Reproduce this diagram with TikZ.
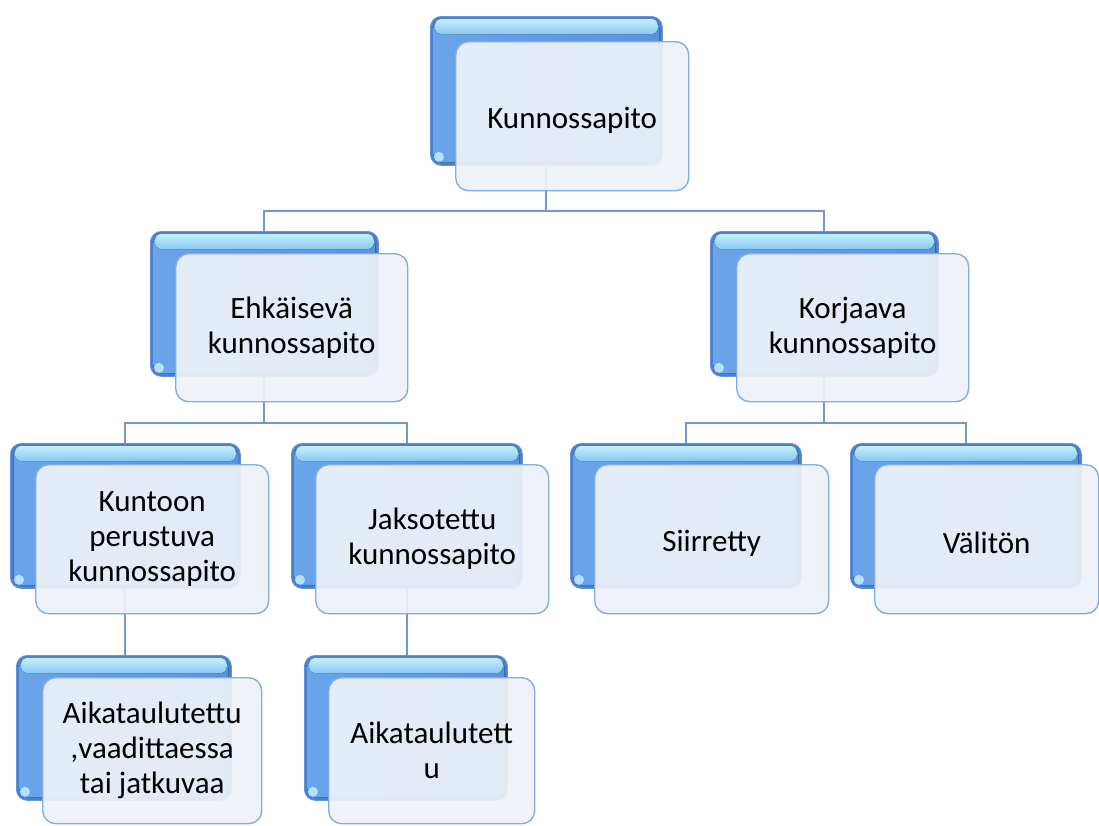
\documentclass[tikz,border=0pt]{standalone}
\usepackage{fontspec}
\setmainfont{Carlito}
\usetikzlibrary{calc}

\definecolor{bdark}{HTML}{4A80CE}
\definecolor{bmidL}{HTML}{6CA4EA}
\definecolor{bmidR}{HTML}{5A92DC}
\definecolor{bbandT}{HTML}{C6EFFD}
\definecolor{bbandB}{HTML}{86C8F2}
\definecolor{fborder}{HTML}{80AEE2}
\definecolor{ffill}{HTML}{EEF2F9}
\definecolor{linkc}{HTML}{6F9AD0}

\tikzset{
  backbox/.style={anchor=north west, rounded corners=11pt, fill=bdark,
    draw=bdark!85!white, line width=0.8pt, inner sep=0pt},
  frontbox/.style={anchor=north west, rounded corners=13pt, fill=ffill,
    fill opacity=0.93, text opacity=1, draw=fborder, line width=1.4pt,
    align=center, inner sep=2pt, text=black,
    font=\fontsize{31}{35}\selectfont,
    execute at begin node={\rule{0pt}{29pt}}},
  conn/.style={draw=linkc, line width=2pt},
}

\begin{document}
\begin{tikzpicture}[x=1pt,y=-1pt]
  \useasboundingbox (0,0) rectangle (1099,825);
  \fill[white] (0,0) rectangle (1099,825);

  % back (bevelled blue) boxes
  \node[backbox, minimum width=232, minimum height=149] (topB) at (430,16) {};
  \node[backbox, minimum width=228, minimum height=145] (ehkB) at (150,231) {};
  \node[backbox, minimum width=228, minimum height=145] (korB) at (710,231) {};
  \node[backbox, minimum width=230, minimum height=145] (kunB) at (10,443) {};
  \node[backbox, minimum width=231, minimum height=145] (jakB) at (291,443) {};
  \node[backbox, minimum width=231, minimum height=145] (siiB) at (570,443) {};
  \node[backbox, minimum width=231, minimum height=145] (valB) at (850,443) {};
  \node[backbox, minimum width=215, minimum height=145] (aOneB) at (16,655) {};
  \node[backbox, minimum width=203, minimum height=145] (aTwoB) at (304,655) {};

  % gloss on the back boxes
  \foreach \b in {topB,ehkB,korB,kunB,jakB,siiB,valB,aOneB,aTwoB}{
    \fill[left color=bmidL, right color=bmidR, rounded corners=9pt]
      ([shift={(3.5pt,3.5pt)}]\b.south west) rectangle ([shift={(-3.5pt,-3.5pt)}]\b.north east);
    \fill[top color=bbandT, bottom color=bbandB, rounded corners=6pt]
      ([shift={(5pt,-3pt)}]\b.north west) rectangle ([shift={(-5pt,-18pt)}]\b.north east);
    \fill[bbandT!80!bmidL] ([shift={(9pt,9pt)}]\b.south west) circle[radius=5pt];
  }

  % connectors
  \draw[conn] (topB.south) |- ([yshift=20pt]ehkB.north) -- (ehkB.north);
  \draw[conn] (topB.south) |- ([yshift=20pt]korB.north) -- (korB.north);
  \draw[conn] (ehkB.south) |- ([yshift=20pt]kunB.north) -- (kunB.north);
  \draw[conn] (ehkB.south) |- ([yshift=20pt]jakB.north) -- (jakB.north);
  \draw[conn] (korB.south) |- ([yshift=20pt]siiB.north) -- (siiB.north);
  \draw[conn] (korB.south) |- ([yshift=20pt]valB.north) -- (valB.north);
  \draw[conn] (kunB.south) -- (kunB.south |- aOneB.north);
  \draw[conn] (jakB.south) -- (jakB.south |- aTwoB.north);

  % front (text) boxes
  \node[frontbox, minimum width=233, minimum height=149] (topF) at (455,41) {Kunnossapito};
  \node[frontbox, minimum width=232, minimum height=148] (ehkF) at (175,253) {Ehkäisevä\\kunnossapito};
  \node[frontbox, minimum width=232, minimum height=148] (korF) at (736,253) {Korjaava\\kunnossapito};
  \node[frontbox, minimum width=233, minimum height=149] (kunF) at (35,464) {Kuntoon\\perustuva\\kunnossapito};
  \node[frontbox, minimum width=233, minimum height=149] (jakF) at (315,464) {Jaksotettu\\kunnossapito};
  \node[frontbox, minimum width=234, minimum height=149] (siiF) at (594,464) {Siirretty};
  \node[frontbox, minimum width=224, minimum height=149] (valF) at (874,464) {Välitön};
  \node[frontbox, minimum width=219, minimum height=146] (aOneF) at (42,677) {Aikataulutettu\\,vaadittaessa\\tai jatkuvaa};
  \node[frontbox, minimum width=206, minimum height=146] (aTwoF) at (328,677) {Aikataulutett\\u};
\end{tikzpicture}
\end{document}
